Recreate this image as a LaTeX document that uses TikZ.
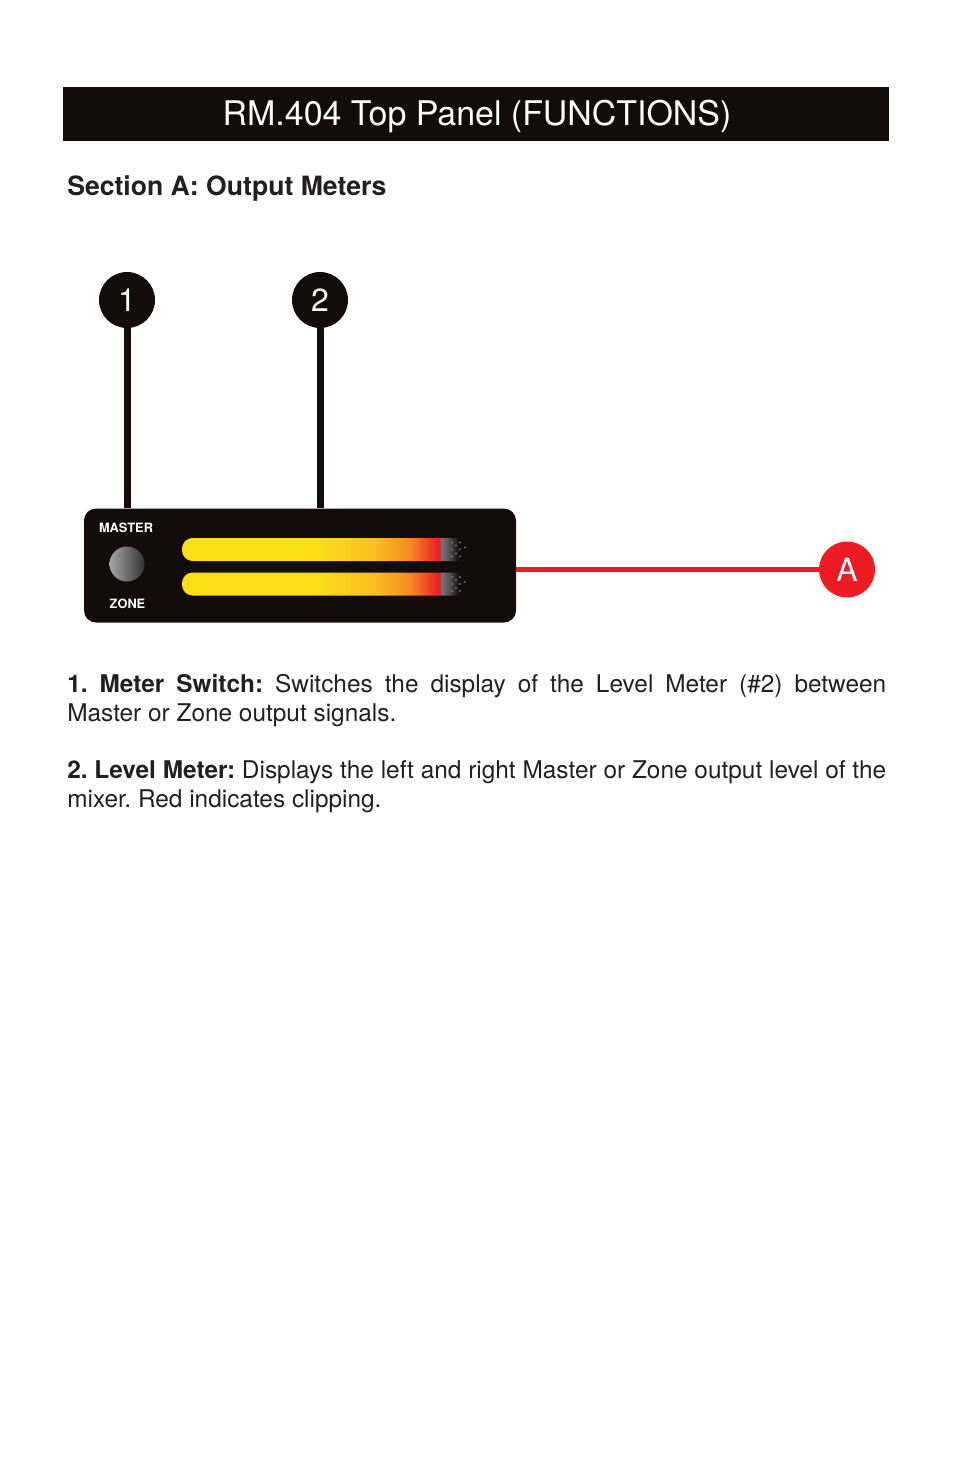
\documentclass[tikz,border=0pt]{standalone}
\usepackage{fontspec}
\setmainfont{TeX Gyre Heros}
\usetikzlibrary{positioning}
\definecolor{panelblack}{HTML}{120D0B}
\definecolor{inktext}{HTML}{231F20}
\definecolor{tagred}{HTML}{ED1C24}
\definecolor{meteryellow}{HTML}{FBE018}
\definecolor{metergold}{HTML}{F9BE22}
\definecolor{meterorange}{HTML}{F58A20}
\pgfdeclarehorizontalshading{metershade}{100bp}{
  color(0bp)=(meteryellow); color(48bp)=(meteryellow);
  color(59bp)=(metergold); color(65bp)=(meterorange);
  color(70bp)=(tagred); color(70.6bp)=(black!55); color(72bp)=(black!70);
  color(73.5bp)=(panelblack); color(100bp)=(panelblack)}
\tikzset{
  tag/.style={circle,minimum size=42pt,inner sep=0pt,text=white,font=\fontsize{24}{24}\selectfont},
  bodytext/.style={anchor=north west,inner sep=0pt,text width=614.25pt,align=justify,text=inktext,font=\fontsize{18.3}{21.75}\selectfont\frenchspacing},
  bar/.style={rectangle,rounded corners=8pt,minimum width=213.75pt,minimum height=17.25pt,inner sep=0pt,shading=metershade},
  tiny/.style={text=white,inner sep=0pt,font=\fontsize{9.6}{9.6}\selectfont\bfseries},
  speck/.style={circle,fill=black!55,minimum size=1.8pt,inner sep=0pt}
}
\begin{document}
\begin{tikzpicture}[x=0.75pt,y=-0.75pt]
\useasboundingbox (0,0) rectangle (954,1475);
\node[fill=panelblack,minimum width=619.5pt,text height=28.5pt,text depth=12pt,inner ysep=0pt,inner xsep=0pt,text=white,font=\fontsize{25.45}{25.45}\selectfont] (title) at (476,114) {\hspace*{1.5pt}RM.404 Top Panel (FUNCTIONS)};
\node[anchor=base west,inner sep=0pt,text=inktext,font=\fontsize{19.95}{20}\selectfont\bfseries] (head) at (67,195) {Section A: Output Meters};
\node[rectangle,rounded corners=9pt,fill=panelblack,minimum width=324pt,minimum height=85.5pt,inner sep=0pt] (panel) at (300,565.5) {};
\node[tag,fill=panelblack] (c1) at (127,300) {1};
\node[tag,fill=panelblack] (c2) at (320,300) {2};
\node[tag,fill=tagred] (cA) at (847,569.5) {A};
\draw[panelblack,line width=5.25pt] (c1) -- (c1 |- panel.north);
\draw[panelblack,line width=5.25pt] (c2) -- (c2 |- panel.north);
\draw[tagred,line width=3.5pt] (cA) -- (cA -| panel.east);
\node[tiny] (master) at (126,528) {MASTER};
\node[tiny] (zone) at (127.5,603.5) {ZONE};
\node[circle,minimum size=26.25pt,inner sep=0pt,left color=black!35,right color=black!80] (knob) at (127,564) {};
\node[bar] (bar1) at (324.5,549.5) {};
\node[bar] (bar2) at (324.5,584) {};
\foreach \y in {549.5,584}{
  \foreach \dx/\dy in {452/-7,452/0,452/7,456/-4,456/4,460/-7,460/0,460/7,465/-2}
    \node[speck] at (\dx,\y+\dy) {};
}
\node[bodytext] (item1) at (67,674) {\textbf{1. Meter Switch:} Switches the display of the Level Meter (\#2) between\linebreak Master or Zone output signals.};
\node[bodytext] (item2) at (67,760.5) {\textbf{2. Level Meter:} Displays the left and right Master or Zone output level of the mixer. Red indicates clipping.};
\end{tikzpicture}
\end{document}
